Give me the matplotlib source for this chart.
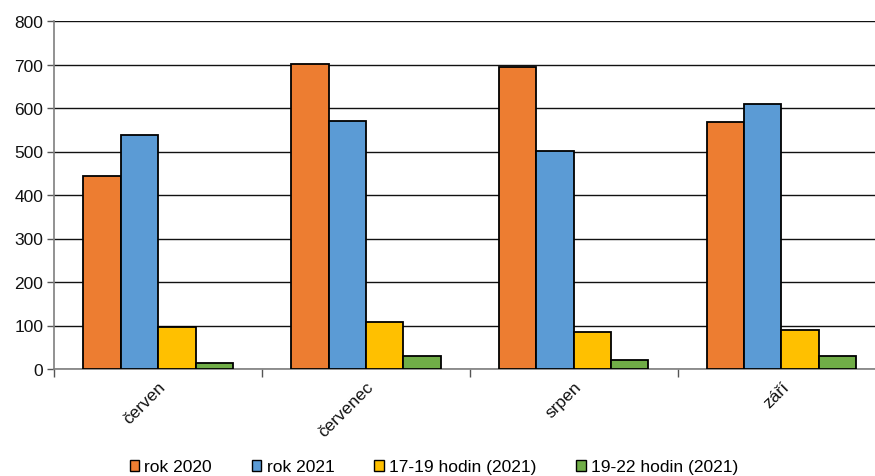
import matplotlib
matplotlib.use("Agg")
import matplotlib.pyplot as plt
from matplotlib.patches import Patch
import numpy as np

plt.rcParams['font.family'] = ['Liberation Sans', 'DejaVu Sans']

categories = ["červen", "červenec", "srpen", "září"]
series_names = ["rok 2020", "rok 2021", "17-19 hodin (2021)", "19-22 hodin (2021)"]
rok_2020 = [444, 702, 695, 568]
rok_2021 = [538, 570, 502, 610]
h17_19 = [97, 109, 84, 89]
h19_22 = [13, 29, 21, 31]
colors = ["#ED7D31", "#5B9BD5", "#FFC000", "#70AD47"]
yticks = [0, 100, 200, 300, 400, 500, 600, 700, 800]

fig = plt.figure(figsize=(8.75, 4.77), dpi=100)
ax = fig.add_axes([54.3/875, 1-370/477, 831/875, 348/477])

x = np.arange(len(categories))
w = 0.18
all_series = [rok_2020, rok_2021, h17_19, h19_22]
for i, (vals, c) in enumerate(zip(all_series, colors)):
    ax.bar(x + (i - 1.5) * w, vals, width=w, color=c, edgecolor='black',
           linewidth=1.3, zorder=3)

ax.set_xlim(-0.5, 3.5)
ax.set_ylim(0, 800)
ax.set_yticks(yticks)
ax.set_yticklabels([str(t) for t in yticks], fontsize=12.5, color='#111111')
ax.yaxis.grid(True, color='#111111', linewidth=1.0, zorder=0)
ax.set_axisbelow(True)

ax.set_xticks(x)
ax.set_xticklabels(categories, rotation=45, ha='right', rotation_mode='anchor',
                   fontsize=12.5, color='#111111')
ax.tick_params(axis='x', which='major', length=0, pad=7)
ax.set_xticks([-0.5, 0.5, 1.5, 2.5, 3.5], minor=True)
ax.tick_params(axis='x', which='minor', length=6, color='#555555', width=1)
ax.tick_params(axis='y', length=5, color='#555555', width=1, pad=3)

for s in ['top', 'right']:
    ax.spines[s].set_visible(False)
for s in ['left', 'bottom']:
    ax.spines[s].set_color('#7f7f7f')
    ax.spines[s].set_linewidth(1.2)

handles = [Patch(facecolor=c, edgecolor='black', linewidth=1.0) for c in colors]
fig.legend(handles, series_names, loc='center', bbox_to_anchor=(0.496, 1-468/477),
           ncol=4, frameon=False, fontsize=12.5, handlelength=0.55, handleheight=0.55,
           handletextpad=0.3, columnspacing=2.3)

fig.savefig("out.png", dpi=100)
